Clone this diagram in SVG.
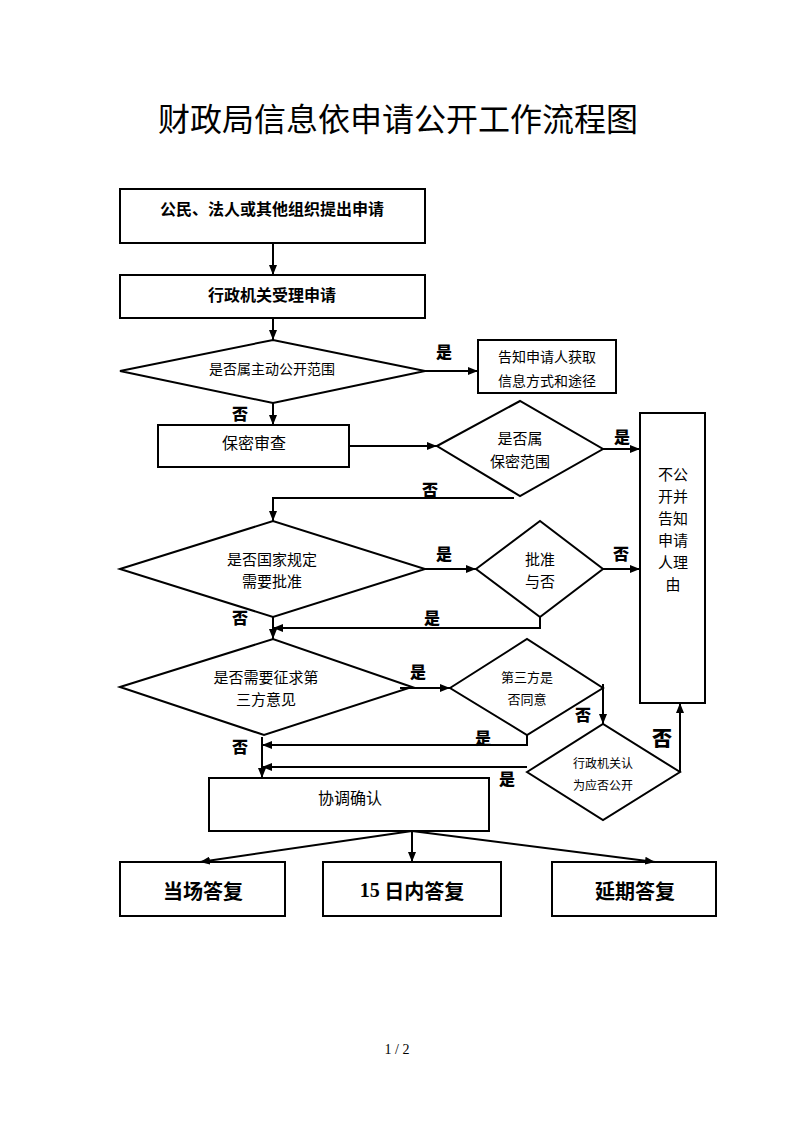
<svg xmlns="http://www.w3.org/2000/svg" width="793" height="1122" viewBox="0 0 793 1122">
<style>
.s{fill:#fff;stroke:#000;stroke-width:2}
.c{fill:none;stroke:#000;stroke-width:2}
text{font-family:"Noto Sans CJK SC","Liberation Sans",sans-serif;fill:#000;text-anchor:middle;dominant-baseline:central}
.b{font-weight:700}
.t16{font-size:16px}
.t15{font-size:15px}
.t14{font-size:14px}
.t13{font-size:13px}
.t12{font-size:12px}
.lb{font-size:16px;font-weight:900}
.big{font-size:20px;font-weight:700}
</style>
<defs>
<marker id="a" markerUnits="userSpaceOnUse" markerWidth="10" markerHeight="8" refX="10" refY="4" orient="auto">
<path d="M0,0 L10,4 L0,8 z" fill="#000"/>
</marker>
</defs>
<rect width="793" height="1122" fill="#fff"/>
<text x="398" y="117" style="font-size:32px">财政局信息依申请公开工作流程图</text>

<g id="n1"><rect class="s" x="120" y="189" width="305" height="54"/><text class="t16 b" x="272" y="208">公民、法人或其他组织提出申请</text></g>
<g id="n2"><rect class="s" x="120" y="275" width="305" height="43"/><text class="t16 b" x="272" y="294">行政机关受理申请</text></g>
<g id="d1"><polygon class="s" points="120,371 273,340 425,371 273,403"/><text class="t14" x="272" y="368">是否属主动公开范围</text></g>
<g id="n3"><rect class="s" x="478" y="340" width="138" height="53"/><text class="t14" x="547" y="356">告知申请人获取</text><text class="t14" x="547" y="380">信息方式和途径</text></g>
<g id="n4"><rect class="s" x="158" y="425" width="191" height="42"/><text class="t16" x="254" y="442">保密审查</text></g>
<g id="d2"><polygon class="s" points="437,446 520,401 603,449 520,496"/><text class="t15" x="520" y="437">是否属</text><text class="t15" x="520" y="460">保密范围</text></g>
<g id="n5"><rect class="s" x="640" y="413" width="65" height="290"/>
<text class="t15" x="673" y="473">不公</text><text class="t15" x="673" y="495">开并</text><text class="t15" x="673" y="517">告知</text><text class="t15" x="673" y="539">申请</text><text class="t15" x="673" y="561">人理</text><text class="t15" x="673" y="583">由</text></g>
<g id="d3"><polygon class="s" points="120,569 273,521 425,569 273,617"/><text class="t15" x="272" y="558">是否国家规定</text><text class="t15" x="272" y="580">需要批准</text></g>
<g id="d4"><polygon class="s" points="476,569 540,521 603,569 540,617"/><text class="t15" x="540" y="558">批准</text><text class="t15" x="540" y="580">与否</text></g>
<g id="d5"><polygon class="s" points="120,687 273,639 412,687 264,735"/><text class="t15" x="266" y="676">是否需要征求第</text><text class="t15" x="266" y="698">三方意见</text></g>
<g id="d6"><polygon class="s" points="450,688 527,639 603,688 527,735"/><text class="t13" x="527" y="676">第三方是</text><text class="t13" x="527" y="698">否同意</text></g>
<g id="d7"><polygon class="s" points="527,772 603,724 680,772 603,820"/><text class="t12" x="603" y="762">行政机关认</text><text class="t12" x="603" y="784">为应否公开</text></g>
<g id="n6"><rect class="s" x="209" y="778" width="280" height="53"/><text class="t16" x="350" y="797">协调确认</text></g>
<g id="n7"><rect class="s" x="120" y="862" width="165" height="54"/><text class="big" x="203" y="890">当场答复</text></g>
<g id="n8"><rect class="s" x="323" y="862" width="178" height="54"/><text class="big" x="412" y="890"><tspan style="font-family:'Liberation Serif',serif">15</tspan> 日内答复</text></g>
<g id="n9"><rect class="s" x="552" y="862" width="164" height="54"/><text class="big" x="635" y="890">延期答复</text></g>

<g id="connectors">
<line class="c" x1="273" y1="243" x2="273" y2="275" marker-end="url(#a)"/>
<line class="c" x1="273" y1="318" x2="273" y2="340" marker-end="url(#a)"/>
<line class="c" x1="425" y1="371" x2="478" y2="371" marker-end="url(#a)"/>
<line class="c" x1="273" y1="403" x2="273" y2="425" marker-end="url(#a)"/>
<line class="c" x1="349" y1="446" x2="437" y2="446" marker-end="url(#a)"/>
<line class="c" x1="603" y1="449" x2="640" y2="449" marker-end="url(#a)"/>
<polyline class="c" points="514,498 273,498 273,521" marker-end="url(#a)"/>
<line class="c" x1="425" y1="569" x2="476" y2="569" marker-end="url(#a)"/>
<line class="c" x1="603" y1="569" x2="640" y2="569" marker-end="url(#a)"/>
<polyline class="c" points="540,617 540,628 273,628" marker-end="url(#a)"/>
<line class="c" x1="273" y1="617" x2="273" y2="639" marker-end="url(#a)"/>
<line class="c" x1="400" y1="688" x2="450" y2="688" marker-end="url(#a)"/>
<polyline class="c" points="603,684 603,724" marker-end="url(#a)"/>
<polyline class="c" points="527,735 527,745 262,745" marker-end="url(#a)"/>
<line class="c" x1="527" y1="767" x2="262" y2="767" marker-end="url(#a)"/>
<line class="c" x1="262" y1="737" x2="262" y2="778" marker-end="url(#a)"/>
<polyline class="c" points="680,772 680,703" marker-end="url(#a)"/>
<line class="c" x1="412" y1="831" x2="200" y2="862" marker-end="url(#a)"/>
<line class="c" x1="412" y1="831" x2="412" y2="862" marker-end="url(#a)"/>
<line class="c" x1="412" y1="831" x2="655" y2="862" marker-end="url(#a)"/>
<text class="lb" x="444" y="351">是</text>
<text class="lb" x="240" y="413">否</text>
<text class="lb" x="622" y="436">是</text>
<text class="lb" x="430" y="489">否</text>
<text class="lb" x="444" y="553">是</text>
<text class="lb" x="621" y="553">否</text>
<text class="lb" x="432" y="617">是</text>
<text class="lb" x="240" y="617">否</text>
<text class="lb" x="418" y="671">是</text>
<text class="lb" x="583" y="714">否</text>
<text class="lb" x="483" y="737">是</text>
<text class="lb" x="240" y="746">否</text>
<text class="lb" x="507" y="778">是</text>
<text x="662" y="737" style="font-size:20px;font-weight:900">否</text>
</g>
<text x="397" y="1049" style="font-family:'Liberation Serif',serif;font-size:14px">1 / 2</text>
</svg>
